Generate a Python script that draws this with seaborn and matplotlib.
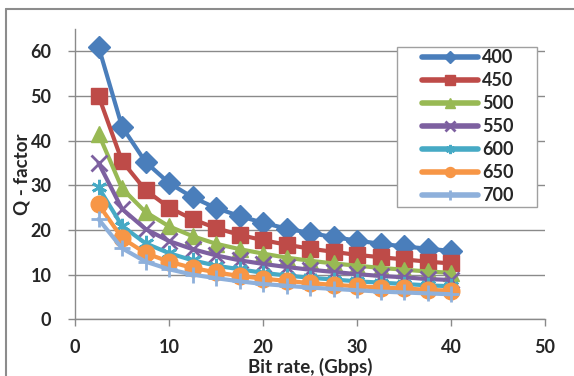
import matplotlib
matplotlib.use("Agg")
import matplotlib.pyplot as plt
from matplotlib.lines import Line2D
from matplotlib.patches import Rectangle
import seaborn as sns
import pandas as pd

# Bit rate (Gbps)
bit_rate = [2.5, 5, 7.5, 10, 12.5, 15, 17.5, 20, 22.5, 25, 27.5, 30, 32.5, 35, 37.5, 40]

# Q-factor for each series
q_400 = [61.0, 43.1, 35.2, 30.5, 27.3, 24.9, 23.1, 21.6, 20.3, 19.3, 18.4, 17.6, 16.9, 16.3, 15.8, 15.3]
q_450 = [50.0, 35.4, 28.9, 25.0, 22.4, 20.4, 18.9, 17.7, 16.7, 15.8, 15.1, 14.4, 13.9, 13.4, 12.9, 12.5]
q_500 = [41.5, 29.3, 24.0, 20.8, 18.6, 16.9, 15.7, 14.7, 13.8, 13.1, 12.5, 12.0, 11.5, 11.1, 10.7, 10.4]
q_550 = [35.0, 24.7, 20.2, 17.5, 15.7, 14.3, 13.2, 12.4, 11.7, 11.1, 10.6, 10.1, 9.7, 9.4, 9.0, 8.8]
q_600 = [29.5, 20.9, 17.0, 14.8, 13.2, 12.0, 11.2, 10.4, 9.8, 9.3, 8.9, 8.5, 8.2, 7.9, 7.6, 7.4]
q_650 = [25.7, 18.2, 14.8, 12.9, 11.5, 10.5, 9.7, 9.1, 8.6, 8.1, 7.7, 7.4, 7.1, 6.9, 6.6, 6.4]
q_700 = [22.4, 15.9, 12.9, 11.2, 10.0, 9.2, 8.5, 7.9, 7.5, 7.1, 6.8, 6.5, 6.2, 6.0, 5.8, 5.6]

series_labels = ["400", "450", "500", "550", "600", "650", "700"]
series_values = [q_400, q_450, q_500, q_550, q_600, q_650, q_700]

colors = ["#4A7EBB", "#BE4B48", "#98B954", "#7D60A0", "#46AAC5", "#F79646", "#8EB0DB"]
markers = ["D", "s", "^", "x", (6, 2, 0), "o", "+"]
msizes = [11, 12, 11, 11, 11, 12, 12]
mews = [1, 1, 1, 2, 2, 1, 2]

frames = []
for lab, vals in zip(series_labels, series_values):
    frames.append(pd.DataFrame({"rate": bit_rate, "q": vals, "series": lab}))
df = pd.concat(frames, ignore_index=True)

sns.set_style("white")
plt.rcParams["font.family"] = ["Lato", "DejaVu Sans"]

fig = plt.figure(figsize=(5.74, 3.76), dpi=100)
ax = fig.add_axes([0.1307, 0.1508, 0.8188, 0.7726])

for lab, c, m, ms, mew in zip(series_labels, colors, markers, msizes, mews):
    sub = df[df["series"] == lab]
    sns.lineplot(data=sub, x="rate", y="q", ax=ax, color=c, marker=m,
                 markersize=ms, markeredgewidth=mew, markeredgecolor=c,
                 linewidth=3, label=lab, zorder=3)

ax.set_xlim(0, 50)
ax.set_ylim(0, 65)
ax.set_xticks(range(0, 51, 10))
ax.set_yticks(range(0, 61, 10))
ax.yaxis.grid(True, color="#8A8A8A", linewidth=1)
ax.xaxis.grid(False)
for s in ["top", "right"]:
    ax.spines[s].set_visible(False)
for s in ["left", "bottom"]:
    ax.spines[s].set_color("#8A8A8A")
    ax.spines[s].set_linewidth(1)
ax.tick_params(axis="both", which="major", direction="out", length=5, width=1,
               color="#8A8A8A", labelsize=13, left=True, bottom=True)
ax.tick_params(axis="x", pad=9)
ax.tick_params(axis="y", pad=12)
for t in ax.get_xticklabels() + ax.get_yticklabels():
    t.set_fontweight("bold")

ax.set_xlabel("Bit rate, (Gbps)", fontsize=13.5, fontweight="bold", va="center")
ax.set_ylabel("Q - factor", fontsize=13.5, fontweight="bold", va="center")
ax.xaxis.set_label_coords(0.5, -0.163)
ax.yaxis.set_label_coords(-0.113, 0.5)

# Legend box drawn behind the legend entries
ax.add_patch(Rectangle((0.685, 0.3866), 0.298, 0.5507, transform=ax.transAxes,
                       facecolor="white", edgecolor="#A0A0A0", linewidth=1,
                       zorder=4.5, clip_on=False))

handles = [Line2D([0], [0], color=c, marker=m, markersize=ms * 0.6,
                  markeredgewidth=mew, markeredgecolor=c, linewidth=4)
           for c, m, ms, mew in zip(colors, markers, msizes, mews)]
leg = ax.legend(handles, series_labels, loc="upper left",
                bbox_to_anchor=(0.738, 0.93), frameon=False,
                handlelength=3.1, handletextpad=0.22, labelspacing=0.33,
                borderpad=0, borderaxespad=0, prop={"size": 13, "weight": "bold"})
leg.set_zorder(5)

# Chart-area border (top and left edges)
fig.add_artist(Line2D([6 / 574, 1.0], [1 - 9 / 376, 1 - 9 / 376],
                      transform=fig.transFigure, color="#8C8C8C", linewidth=1.5))
fig.add_artist(Line2D([6 / 574, 6 / 574], [0.0, 1 - 9 / 376],
                      transform=fig.transFigure, color="#8C8C8C", linewidth=1.5))

fig.savefig("out.png", dpi=100)
